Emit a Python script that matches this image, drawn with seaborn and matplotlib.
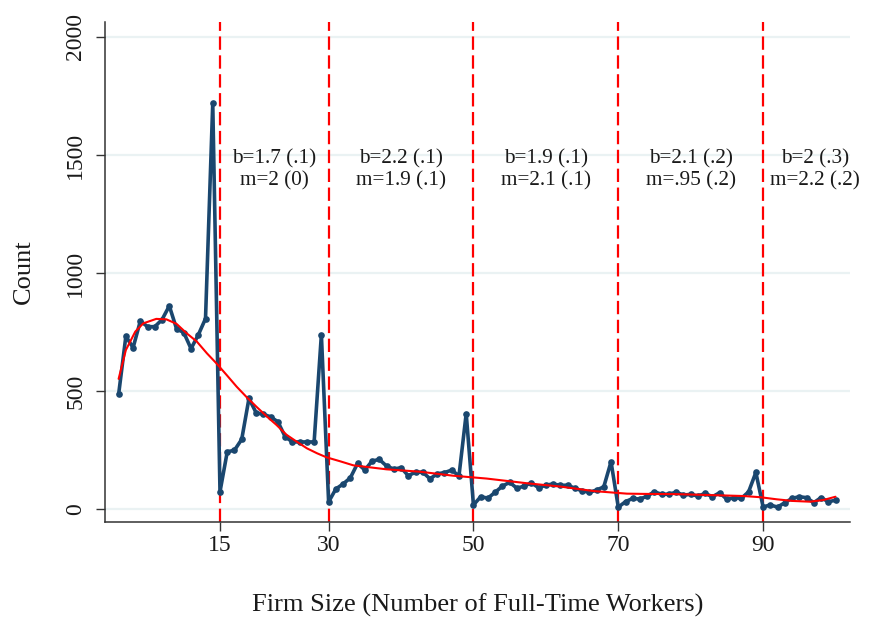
import matplotlib
matplotlib.use('Agg')
import matplotlib.pyplot as plt
import seaborn as sns
import pandas as pd

# firm size and counts
firm_size = list(range(1, 101))
counts = [486, 732, 684, 797, 773, 773, 803, 861, 764, 748,
          680, 738, 807, 1719, 74, 243, 250, 296, 469, 408,
          402, 391, 370, 307, 285, 285, 285, 285, 739, 31,
          86, 107, 133, 194, 166, 204, 211, 183, 170, 176,
          142, 157, 157, 129, 150, 155, 166, 141, 405, 18,
          53, 47, 72, 98, 114, 89, 98, 112, 91, 102,
          107, 101, 102, 89, 78, 72, 81, 95, 201, 9,
          32, 46, 43, 56, 74, 63, 64, 72, 60, 63,
          56, 67, 53, 70, 42, 49, 46, 74, 156, 10,
          18, 9, 28, 46, 53, 49, 28, 49, 32, 38]

# smooth fitted curve
fit_x = [1, 2, 3.3, 4.4, 6.2, 7.6, 9, 10.4, 11.8, 13.2, 14.5, 15.9, 17.3,
         18.7, 20.1, 21.5, 22.8, 24.2, 25.6, 27, 28.4, 29.7, 31.6, 33.4,
         38, 42.6, 47.2, 51.8, 57.4, 62, 66.6, 71.2, 73.5, 78, 82.7, 87.3,
         89.6, 91.9, 94.2, 96.5, 98.3, 100]
fit_y = [552, 674, 752, 787, 806, 804, 785, 745, 710, 660, 618, 569, 519,
         474, 432, 392, 357, 315, 286, 258, 237, 220, 203, 186,
         169, 159, 142, 130, 110, 96, 77, 66, 65, 64, 60, 56,
         51, 42, 35, 32, 39, 53]

thresholds = [15, 30, 50, 70, 90]
label_x = [22.5, 40, 60, 80, 97.2]
labels = ['b=1.7 (.1)\nm=2 (0)', 'b=2.2 (.1)\nm=1.9 (.1)', 'b=1.9 (.1)\nm=2.1 (.1)',
          'b=2.1 (.2)\nm=.95 (.2)', 'b=2 (.3)\nm=2.2 (.2)']
y_ticks = [0, 500, 1000, 1500, 2000]

sns.set_theme(style='white')
plt.rcParams['font.family'] = ['Liberation Serif', 'DejaVu Serif']

df = pd.DataFrame({'size': firm_size, 'count': counts})
fit = pd.DataFrame({'size': fit_x, 'count': fit_y})

fig = plt.figure(figsize=(8.7, 6.17), dpi=100)
ax = fig.add_axes([105/870, 1 - 522/617, 745/870, 500/617])

for t in y_ticks:
    ax.axhline(t, color='#eaf2f3', lw=1.6, zorder=0)

for t in thresholds:
    ax.axvline(t, color='#ff0000', lw=1.6, ls=(0, (6, 2.5)), zorder=1)

sns.lineplot(data=df, x='size', y='count', color='#1a476f', lw=2.6,
             marker='o', markersize=4.8, markeredgewidth=0, ax=ax, zorder=3)
sns.lineplot(data=fit, x='size', y='count', color='#ff0000', lw=1.5, ax=ax, zorder=4)

for x, s in zip(label_x, labels):
    ax.text(x, 1436, s, ha='center', va='center', fontsize=15.3,
            linespacing=1.2, color='#1a1a1a')

ax.set_xlim(-0.88, 102)
ax.set_ylim(-54, 2063)
ax.set_xticks(thresholds)
ax.set_yticks(y_ticks)
ax.set_yticklabels([str(v) for v in y_ticks], rotation=90, va='center')

sns.despine(ax=ax)
for side in ['left', 'bottom']:
    ax.spines[side].set_color('#333333')
    ax.spines[side].set_linewidth(1.1)

ax.tick_params(axis='both', length=6.5, width=1, color='#333333',
               labelsize=17, labelcolor='#1a1a1a')
ax.tick_params(axis='y', pad=7)
ax.tick_params(axis='x', pad=3)
ax.tick_params(bottom=True, left=True)

ax.set_xlabel('Firm Size (Number of Full-Time Workers)', fontsize=19,
              labelpad=27, color='#1a1a1a')
ax.set_ylabel('Count', fontsize=19, labelpad=22, color='#1a1a1a')

fig.savefig('out.png', dpi=100)
